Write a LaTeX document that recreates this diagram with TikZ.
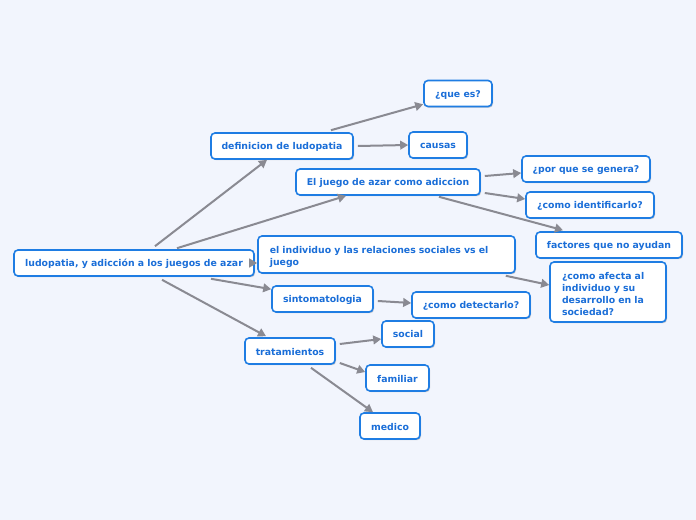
\documentclass[tikz,border=0pt]{standalone}
\usepackage{fontspec}
\setmainfont{DejaVu Sans}
\usetikzlibrary{arrows.meta,calc,shadows}
\definecolor{bg}{HTML}{F2F5FD}
\definecolor{nodeborder}{HTML}{1F7DE3}
\definecolor{nodetext}{HTML}{1A6ED8}
\definecolor{edge}{HTML}{8A8A92}
\tikzset{
  box/.style={draw=nodeborder, line width=1.2pt, fill=white, rounded corners=3pt,
    text=nodetext, font=\fontsize{7}{9}\selectfont\bfseries, minimum height=19.5pt,
    inner xsep=6pt, inner ysep=2pt,
    drop shadow={shadow xshift=0.8pt, shadow yshift=-0.9pt, fill=black, opacity=0.2}},
  onebox/.style={box, text height=7pt, text depth=1pt},
  conn/.style={draw=edge, line width=1.5pt, -{Triangle[length=6pt,width=6.5pt]}}
}
\begin{document}
\begin{tikzpicture}[x=0.75pt,y=-0.75pt]
\fill[bg] (0,0) rectangle (696,520);
\useasboundingbox (0,0) rectangle (696,520);
\node[onebox, minimum width=180pt] (main) at (134,263) {ludopatia, y adicción a los juegos de azar};
\node[onebox, minimum width=106.5pt] (def) at (282,146) {definicion de ludopatia};
\node[onebox, minimum width=51pt] (quees) at (458,93.5) {¿que es?};
\node[onebox, minimum width=43.5pt] (causas) at (438,145) {causas};
\node[onebox, minimum width=138pt] (juego) at (388,182) {El juego de azar como adiccion};
\node[onebox, minimum width=96pt] (porque) at (586,169) {¿por que se genera?};
\node[onebox, minimum width=96pt] (identif) at (590,205) {¿como identificarlo?};
\node[onebox, minimum width=109.5pt] (factores) at (609,245) {factores que no ayudan};
\node[box, minimum width=192.75pt, minimum height=27.75pt, align=left, text width=175pt, text height=9pt] (indiv) at (386.5,254.5) {el individuo y las relaciones sociales vs el\\juego};
\node[box, minimum width=87pt, minimum height=45pt, align=left, text width=69pt, text height=8pt] (afecta) at (608,292) {¿como afecta al\\individuo y su\\desarrollo en la\\sociedad?};
\node[onebox, minimum width=75.75pt] (sinto) at (322.5,299) {sintomatologia};
\node[onebox, minimum width=88.5pt] (detect) at (471,305) {¿como detectarlo?};
\node[onebox, minimum width=67.5pt] (trat) at (290,351) {tratamientos};
\node[onebox, minimum width=39pt] (social) at (408,334) {social};
\node[onebox, minimum width=47.25pt] (familiar) at (397.5,378) {familiar};
\node[onebox, minimum width=45pt] (medico) at (390,426) {medico};
% connectors
\draw[conn] ($(main.north)+(21,-3)$) -- ($(def.south)+(-15,0)$);
\draw[conn] ($(main.north)+(43,-1)$) -- ($(juego.south)+(-42,0)$);
\draw[conn] (main.east) -- (main.east -| indiv.west);
\draw[conn] ($(main.south)+(77,2)$) -- ($(sinto.north west)+(0,4)$);
\draw[conn] ($(main.south)+(28,3)$) -- ($(trat.north)+(-24,-1)$);
\draw[conn] ($(def.north)+(49,-2)$) -- ($(quees.south west)+(0,-3)$);
\draw[conn] ($(def.east)+(4,0)$) -- (causas.west);
\draw[conn] ($(juego.east)+(4,-6)$) -- ($(porque.west)+(0,4)$);
\draw[conn] ($(juego.east)+(4,11)$) -- ($(identif.west)+(0,-6)$);
\draw[conn] ($(juego.south)+(51,1)$) -- ($(factores.north)+(-46,-1)$);
\draw[conn] ($(indiv.south east)+(-10,2)$) -- ($(afecta.west)+(0,-7)$);
\draw[conn] ($(sinto.east)+(4,2)$) -- ($(detect.west)+(0,-2)$);
\draw[conn] ($(trat.east)+(4,-7)$) -- ($(social.west)+(0,5)$);
\draw[conn] ($(trat.east)+(4,12)$) -- ($(familiar.west)+(0,-6)$);
\draw[conn] ($(trat.south)+(21,3)$) -- ($(medico.north)+(-17,0)$);
\end{tikzpicture}
\end{document}
